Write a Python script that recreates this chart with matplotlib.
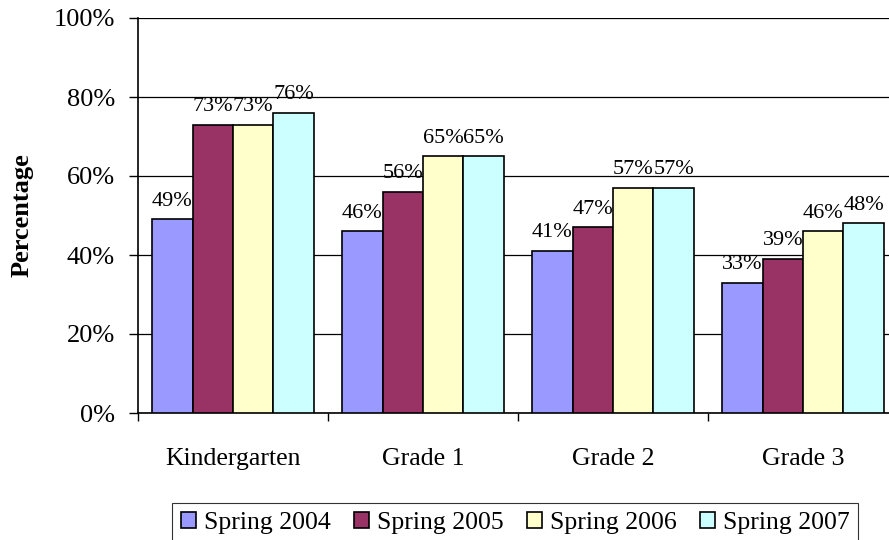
import numpy as np
from matplotlib import pyplot as plt

# dane
categories = ['Kindergarten', 'Grade 1', 'Grade 2', 'Grade 3']
series = ['Spring 2004', 'Spring 2005', 'Spring 2006', 'Spring 2007']
values = {
    'Spring 2004': [49, 46, 41, 33],
    'Spring 2005': [73, 56, 47, 39],
    'Spring 2006': [73, 65, 57, 46],
    'Spring 2007': [76, 65, 57, 48],
}
colors = ['#9999FF', '#993366', '#FFFFCC', '#CCFFFF']

plt.rcParams['font.family'] = ['Liberation Serif', 'DejaVu Serif']

fig = plt.figure(figsize=(8.89, 5.40), dpi=100)
ax = fig.add_axes([138/889, 127/540, 760/889, 395/540])

x = np.arange(len(categories))
w = 0.213
handles = []
for i, s in enumerate(series):
    pos = x + (i - 1.5) * w
    b = ax.bar(pos, values[s], width=w, color=colors[i], edgecolor='black',
               linewidth=1.2, zorder=3, label=s)
    handles.append(b)
    for px, v in zip(pos, values[s]):
        ax.text(px, v + 2.2, f'{v}%', ha='center', va='bottom', fontsize=16, zorder=4)

ax.set_xlim(-0.5, len(categories) - 0.5)
ax.set_ylim(0, 100)
ax.set_yticks(range(0, 101, 20))
ax.set_yticklabels([f'{t}%' for t in range(0, 101, 20)], fontsize=19)
ax.yaxis.grid(True, color='black', linewidth=0.9, zorder=0)
ax.set_axisbelow(True)

ax.set_xticks(x)
ax.set_xticklabels(categories, fontsize=18.5)
ax.set_xticks(np.arange(-0.5, len(categories), 1), minor=True)
ax.tick_params(axis='x', which='major', length=0, pad=25)
ax.tick_params(axis='x', which='minor', length=6, width=1, direction='out')
ax.tick_params(axis='y', length=6.5, width=1, direction='out', pad=10)

for sp in ['top', 'right']:
    ax.spines[sp].set_visible(False)
ax.spines['left'].set_linewidth(1.2)
ax.spines['bottom'].set_linewidth(1.2)

fig.text(22/889, 1 - 215/540, 'Percentage', rotation=90, ha='center', va='center',
         fontsize=19, fontweight='bold')

leg = fig.legend(handles, series, loc='lower center', bbox_to_anchor=(515/889, -0.03),
                 ncol=4, fontsize=18.5, frameon=True, fancybox=False, edgecolor='black',
                 handlelength=0.6, handleheight=0.6, handletextpad=0.3, columnspacing=0.9,
                 borderpad=0.35)
leg.get_frame().set_linewidth(0.8)

fig.savefig('out.png', dpi=100)
